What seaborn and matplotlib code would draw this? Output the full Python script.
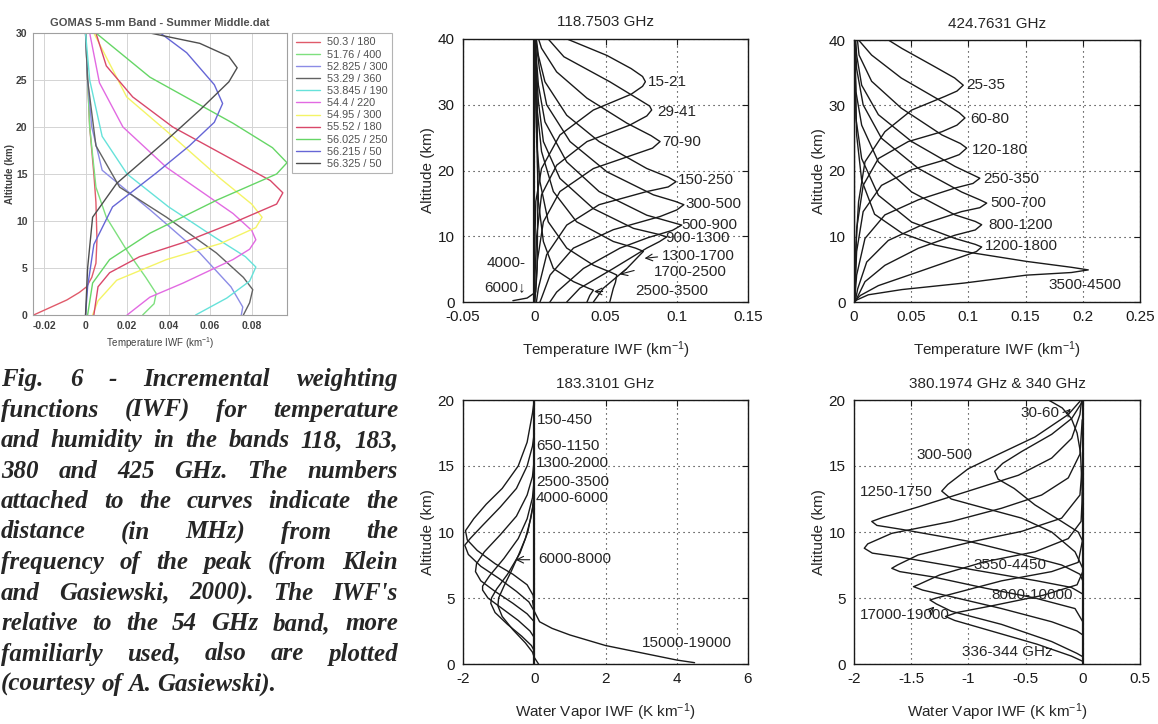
import numpy as np
import pandas as pd
import seaborn as sns
import matplotlib
matplotlib.use("Agg")
import matplotlib.pyplot as plt

# ---------------- data ----------------
# GOMAS 54 GHz band, temperature IWF (km^-1) vs altitude (km)
gomas_labels = ["50.3 / 180", "51.76 / 400", "52.825 / 300", "53.29 / 360", "53.845 / 190",
                "54.4 / 220", "54.95 / 300", "55.52 / 180", "56.025 / 250", "56.215 / 50", "56.325 / 50"]
gomas_colors = ["#e05a6a", "#7ee07e", "#8c8ce6", "#626262", "#66e2da", "#e26ae2",
                "#f4f466", "#d9486a", "#66d666", "#6666d6", "#4e4e4e"]
gomas_curves = {
    "50.3 / 180": [(0.0, 30), (0.001, 25), (0.002, 20), (0.004, 15), (0.005, 12), (0.0055, 8), (0.005, 5.5),
                   (0.003, 4), (0.0005, 3), (-0.003, 2.4), (-0.009, 1.6), (-0.017, 0.8), (-0.025, 0)],
    "51.76 / 400": [(0.0, 30), (0.001, 25), (0.002, 20), (0.005, 13.6), (0.010, 10.4), (0.0198, 6.9),
                    (0.029, 4), (0.034, 2.3), (0.033, 1.2), (0.0275, 0)],
    "52.825 / 300": [(0.0, 30), (0.001, 25), (0.003, 20), (0.008, 15.4), (0.031, 11.2), (0.055, 6.6),
                     (0.07, 3.0), (0.0757, 0.85), (0.075, 0)],
    "53.29 / 360": [(0.0, 30), (0.001, 25), (0.005, 18), (0.0164, 13.6), (0.039, 10.4), (0.063, 6.6),
                    (0.076, 4), (0.0805, 2.7), (0.079, 1.3), (0.076, 0)],
    "53.845 / 190": [(0.0, 30), (0.002, 25), (0.008, 19), (0.02, 15), (0.04, 11.5), (0.062, 8.3),
                     (0.077, 6.2), (0.082, 5.1), (0.079, 3.6), (0.068, 1.8), (0.053, 0)],
    "54.4 / 220": [(0.002, 30), (0.0067, 24.7), (0.018, 20), (0.039, 15.7), (0.071, 10.8), (0.08, 9),
                   (0.082, 8), (0.079, 7), (0.071, 5.9), (0.047, 3.4), (0.031, 1.9), (0.02, 0)],
    "54.95 / 300": [(0.004, 30), (0.0198, 23.2), (0.042, 19), (0.065, 14.5), (0.08, 11.8), (0.085, 10.4),
                    (0.082, 9.3), (0.065, 7.6), (0.039, 5.9), (0.015, 3.7), (0.006, 1.5), (0.0034, 0)],
    "55.52 / 180": [(0.005, 30), (0.01, 26.5), (0.0227, 23.2), (0.042, 20), (0.071, 16.5), (0.089, 14.3),
                    (0.095, 13), (0.092, 11.8), (0.071, 9.8), (0.047, 7.7), (0.026, 6.2), (0.0116, 4.5),
                    (0.006, 3.0), (0.004, 0)],
    "56.025 / 250": [(0.005, 30), (0.031, 25.3), (0.071, 20.4), (0.09, 17.8), (0.097, 16.2), (0.092, 15),
                     (0.063, 12.2), (0.031, 8.7), (0.0116, 5.9), (0.0034, 3.4), (0.001, 0)],
    "56.215 / 50": [(0.036, 30), (0.0487, 27.9), (0.062, 24.5), (0.066, 22.5), (0.062, 20.5), (0.05, 18),
                    (0.034, 15.1), (0.013, 11.5), (0.004, 7.5), (0.001, 3), (0.0, 0)],
    "56.325 / 50": [(0.031, 30), (0.055, 28.9), (0.069, 27.5), (0.073, 26.3), (0.069, 24.8), (0.055, 21.8),
                    (0.039, 18.6), (0.015, 14), (0.0034, 10.4), (0.001, 5), (0.0, 0)],
}

# 118.7503 GHz, temperature IWF (km^-1)
t118_curves = {
    "15-21": [(0.023, 40), (0.051, 37.5), (0.068, 35.5), (0.076, 34.3), (0.078, 33.5), (0.076, 32.8),
              (0.068, 31.6), (0.0415, 29.2), (0.018, 25.4), (0.0051, 20.3), (0.0011, 15.3), (0.0003, 8), (0, 0)],
    "29-41": [(0.0098, 40), (0.0208, 37.3), (0.053, 33.5), (0.072, 31), (0.081, 29.8), (0.0824, 29.2),
              (0.079, 28.3), (0.067, 26.9), (0.037, 24.4), (0.0157, 20.8), (0.0051, 16.3), (0.0017, 10),
              (0.0005, 4), (0, 0)],
    "70-90": [(0.003, 40), (0.0051, 38.6), (0.0157, 35), (0.037, 31), (0.065, 27.2), (0.082, 25.3),
              (0.0883, 24.4), (0.083, 23.4), (0.0696, 22.4), (0.0415, 20.3), (0.018, 16.8), (0.0064, 12.2),
              (0.0022, 6.3), (0.0005, 0)],
    "150-250": [(0.0015, 40), (0.0029, 37.5), (0.0075, 33.5), (0.0228, 28.4), (0.0455, 24.4), (0.079, 20.3),
                (0.094, 19), (0.0995, 18.3), (0.094, 17.5), (0.079, 16.8), (0.0455, 14.8), (0.0228, 11.7),
                (0.0087, 7.2), (0.0029, 2.1), (0.0015, 0)],
    "300-500": [(0.001, 40), (0.0036, 35.5), (0.0087, 30), (0.0251, 24.4), (0.051, 19.8), (0.0836, 16.3),
                (0.099, 15.3), (0.105, 14.8), (0.1, 14), (0.0883, 13), (0.0555, 11), (0.0275, 8.2),
                (0.0111, 4.1), (0.0051, 0.6), (0.004, 0)],
    "500-900": [(0.0005, 40), (0.0029, 33), (0.0075, 27.4), (0.0228, 21.3), (0.0455, 16.8), (0.079, 13.2),
                (0.097, 12.1), (0.1035, 11.7), (0.097, 10.9), (0.08, 9.8), (0.0602, 8.2), (0.0345, 5.1),
                (0.0157, 1.5), (0.011, 0)],
    "900-1300": [(0.0003, 40), (0.0029, 30.5), (0.0064, 24.4), (0.018, 18.8), (0.0415, 14.2), (0.0696, 11.2),
                 (0.087, 10.3), (0.093, 9.9), (0.088, 9.2), (0.079, 8.2), (0.0555, 5.1), (0.032, 2.1),
                 (0.0228, 0)],
    "1300-1700": [(0.0003, 40), (0.0022, 29), (0.0051, 22.9), (0.0134, 16.8), (0.0297, 12.2), (0.0555, 9.2),
                  (0.071, 8.2), (0.0766, 7.7), (0.073, 6.9), (0.065, 5.1), (0.0485, 2.1), (0.0415, 0)],
    "1700-2500": [(0.0002, 40), (0.0017, 24.4), (0.004, 18.3), (0.0098, 12.2), (0.0228, 8.2), (0.0415, 5.6),
                  (0.054, 4.5), (0.0579, 4.1), (0.057, 3.0), (0.0555, 2.1), (0.053, 0)],
    "2500-3500": [(0.0001, 40), (0.0029, 15.3), (0.0064, 9.2), (0.0134, 5.1), (0.0275, 3.1), (0.038, 2.1),
                  (0.0415, 1.8), (0.039, 1.0), (0.037, 0)],
    "4000-6000": [(0.001, 40), (0.002, 30), (0.0025, 15), (0.002, 5), (0.001, 1.5), (-0.005, 0.6),
                  (-0.015, 0.2)],
}

# 424.7631 GHz, temperature IWF (km^-1)
t424_curves = {
    "25-35": [(0.030, 40), (0.042, 38.7), (0.0708, 35.9), (0.088, 34.2), (0.0955, 33.1), (0.09, 32.2),
              (0.0796, 31.4), (0.0504, 29.3), (0.027, 26), (0.0096, 21.4), (0.004, 15.3), (0.0014, 7.7),
              (0.0005, 0)],
    "60-80": [(0.004, 40), (0.0154, 37.7), (0.0413, 34.2), (0.0769, 30.6), (0.092, 28.9), (0.097, 28.1),
              (0.09, 27.0), (0.0769, 26), (0.0475, 24.5), (0.0213, 21.9), (0.008, 17.8), (0.0023, 11.2),
              (0.0005, 0)],
    "120-180": [(0.003, 40), (0.0044, 37.7), (0.0154, 33.7), (0.0413, 29.6), (0.0769, 25.5), (0.093, 24.2),
                (0.0985, 23.5), (0.092, 22.5), (0.0796, 21.7), (0.0504, 20.2), (0.024, 17.8), (0.008, 13.8),
                (0.0023, 7.7), (0.0005, 0)],
    "250-350": [(0.0015, 40), (0.0023, 37.7), (0.0067, 33.1), (0.0213, 28.6), (0.0504, 24.5), (0.0883, 20.7),
                (0.104, 19.4), (0.110, 18.9), (0.104, 18.1), (0.0883, 17.4), (0.0562, 15.6), (0.027, 13.3),
                (0.0096, 9.7), (0.0023, 4.1), (0.0005, 0)],
    "500-700": [(0.001, 40), (0.0023, 35.6), (0.008, 30.1), (0.024, 25), (0.0562, 20.4), (0.094, 16.8),
                (0.11, 15.6), (0.116, 15.1), (0.11, 14.4), (0.094, 13.8), (0.0623, 12), (0.030, 9.4),
                (0.0111, 6.1), (0.0032, 2), (0.001, 0)],
    "800-1200": [(0.0008, 40), (0.0017, 32.1), (0.0067, 27), (0.0213, 21.4), (0.0504, 16.8), (0.0883, 13.3),
                 (0.106, 12.3), (0.1116, 11.8), (0.106, 11.0), (0.0883, 10.2), (0.0562, 8.2), (0.027, 5.6),
                 (0.0096, 3.1), (0.0023, 0.5), (0.001, 0)],
    "1200-1800": [(0.0006, 40), (0.0017, 28), (0.0067, 21.9), (0.0213, 16.3), (0.0504, 12.2), (0.0883, 9.7),
                  (0.106, 8.8), (0.1116, 8.4), (0.107, 7.7), (0.094, 6.9), (0.0562, 4.6), (0.0213, 2.5),
                  (0.0056, 1.0), (0.0009, 0.2), (0, 0)],
    "3500-4500": [(0.0004, 40), (0.0023, 25.5), (0.0067, 18.6), (0.018, 13.4), (0.042, 10.5), (0.0708, 8.7),
                  (0.1, 7.6), (0.1507, 6.2), (0.19, 5.3), (0.2048, 4.9), (0.19, 4.5), (0.1507, 4.1),
                  (0.0966, 2.9), (0.042, 1.9), (0.0125, 1.1), (0.0023, 0.3), (0, 0)],
}

# 183.3101 GHz, water vapor IWF (K km^-1)
w183_curves = {
    "150-450": [(0, 20), (-0.05, 19.0), (-0.2, 16.8), (-0.45, 15.0), (-0.9, 13.3), (-1.35, 12.1), (-1.7, 11.0),
                (-1.93, 10.1), (-1.88, 9.4), (-1.6, 8.6), (-1.1, 7.6), (-0.6, 6.8), (-0.2, 6.0), (-0.03, 5.2),
                (0, 4.5)],
    "650-1150": [(0, 17.5), (-0.05, 16.5), (-0.2, 15.0), (-0.5, 13.3), (-0.95, 11.9), (-1.45, 10.5),
                 (-1.8, 9.5), (-1.95, 9.0), (-1.85, 8.3), (-1.5, 7.4), (-1.0, 6.5), (-0.5, 5.5), (-0.15, 4.7),
                 (0, 4.0)],
    "1300-2000": [(0, 15.5), (-0.05, 14.2), (-0.2, 12.8), (-0.5, 11.2), (-0.95, 9.8), (-1.4, 8.5),
                  (-1.62, 7.6), (-1.65, 7.0), (-1.5, 6.3), (-1.1, 5.5), (-0.6, 4.6), (-0.2, 3.8), (0, 3.2)],
    "2500-3500": [(0, 14.0), (-0.05, 12.6), (-0.2, 11.0), (-0.45, 9.5), (-0.85, 8.0), (-1.25, 6.7),
                  (-1.45, 5.9), (-1.45, 5.6), (-1.3, 5.0), (-0.9, 4.2), (-0.45, 3.3), (-0.12, 2.5), (0, 2.0)],
    "4000-6000": [(0, 13.0), (-0.05, 11.8), (-0.18, 10.0), (-0.4, 8.4), (-0.75, 6.8), (-1.05, 5.7),
                  (-1.2, 5.0), (-1.22, 4.6), (-1.1, 3.9), (-0.75, 3.0), (-0.35, 2.1), (-0.08, 1.4), (0, 1.0)],
    "6000-8000": [(0, 12.5), (-0.1, 11.0), (-0.25, 9.5), (-0.45, 8.2), (-0.65, 7.0), (-0.85, 5.9),
                  (-1.0, 5.0), (-1.02, 4.4), (-0.9, 3.6), (-0.6, 2.6), (-0.25, 1.6), (-0.05, 0.9), (0, 0.5),
                  (0.12, 0)],
    "15000-19000": [(-0.05, 4.8), (0, 4.0), (0.15, 3.2), (0.5, 2.7), (1.0, 2.2), (2.0, 1.4), (3.0, 0.85),
                    (4.0, 0.3), (4.5, 0.1)],
}

# 380.1974 GHz & 340 GHz, water vapor IWF (K km^-1)
w380_curves = {
    "30-60": [(-0.3, 20), (-0.18, 19.4), (-0.1, 18.6), (-0.05, 17.5), (-0.02, 16), (-0.01, 14), (0, 12)],
    "300-500": [(-0.009, 19.8), (-0.097, 18.6), (-0.272, 17.4), (-0.534, 16.1), (-0.7, 15.2), (-0.77, 14.6),
                (-0.74, 14.0), (-0.6, 13.3), (-0.418, 12.05), (-0.185, 10.8), (-0.04, 10.0), (0, 9.3),
                (0, 8.5)],
    "1250-1750": [(-0.025, 19.9), (-0.127, 18.9), (-0.418, 17.2), (-0.71, 16.0), (-1.0, 14.8), (-1.18, 13.6),
                  (-1.233, 13.1), (-1.15, 12.5), (-0.855, 11.8), (-0.534, 11.05), (-0.272, 10.0),
                  (-0.068, 8.5), (0, 7.25), (0, 6.5)],
    "600-1000": [(-0.01, 20), (-0.025, 18.9), (-0.097, 17.1), (-0.272, 15.6), (-0.563, 14.3), (-1.0, 13.1),
                 (-1.438, 11.9), (-1.75, 11.1), (-1.845, 10.8), (-1.8, 10.5), (-1.584, 10.2), (-1.0, 9.3),
                 (-0.534, 8.3), (-0.185, 7.5), (-0.025, 6.8), (0, 6.3)],
    "2000-2600": [(-0.005, 18.5), (-0.025, 15.9), (-0.127, 14.1), (-0.36, 12.8), (-0.71, 11.8), (-1.146, 10.8),
                  (-1.67, 9.9), (-1.88, 9.1), (-1.91, 8.77), (-1.84, 8.4), (-1.6, 8.1), (-1.2, 7.5),
                  (-0.8, 6.9), (-0.4, 6.3), (-0.1, 5.8), (0, 5.3)],
    "3550-4450": [(-0.005, 15), (-0.025, 12.8), (-0.185, 11.05), (-0.534, 10.05), (-0.95, 9.3), (-1.44, 8.26),
                  (-1.62, 7.5), (-1.67, 7.25), (-1.6, 7.0), (-1.31, 6.6), (-0.855, 5.75), (-0.418, 5.0),
                  (-0.068, 4.2), (0, 3.2)],
    "8000-10000": [(-0.003, 13), (-0.015, 10.8), (-0.127, 9.5), (-0.418, 8.5), (-0.855, 7.75), (-1.25, 6.75),
                   (-1.44, 6.0), (-1.48, 5.86), (-1.4, 5.6), (-1.2, 5.2), (-0.71, 4.2), (-0.272, 3.2),
                   (-0.05, 2.5), (0, 2.2)],
    "17000-19000": [(0, 9.5), (-0.04, 7.7), (-0.272, 7.0), (-0.71, 6.3), (-1.06, 5.5), (-1.28, 5.0),
                    (-1.336, 4.85), (-1.28, 4.55), (-1.15, 4.0), (-0.71, 3.0), (-0.272, 1.7), (-0.05, 0.8),
                    (0, 0.55)],
    "336-344 GHz": [(0, 7), (-0.05, 6.0), (-0.35, 5.2), (-0.8, 4.4), (-1.1, 3.9), (-1.2, 3.6), (-1.12, 3.3),
                    (-0.8, 2.5), (-0.4, 1.5), (-0.1, 0.6), (0, 0.2)],
}

caption_lines = [
    "Fig. 6 - Incremental weighting",
    "functions (IWF) for temperature",
    "and humidity in the bands 118, 183,",
    "380 and 425 GHz.  The numbers",
    "attached to the curves indicate the",
    "distance (in MHz) from the",
    "frequency of the peak (from Klein",
    "and Gasiewski, 2000).  The IWF's",
    "relative to the 54 GHz band, more",
    "familiarly used, also are plotted",
    "(courtesy of A. Gasiewski).",
]


def to_frame(curves):
    rows = []
    for name, pts in curves.items():
        for i, (x, a) in enumerate(pts):
            rows.append({"curve": name, "i": i, "x": x, "alt": a})
    return pd.DataFrame(rows)


sns.set_theme(style="white")
plt.rcParams["font.family"] = ["Liberation Sans", "DejaVu Sans"]
plt.rcParams["mathtext.fontset"] = "custom"
plt.rcParams["mathtext.rm"] = "Liberation Sans"
plt.rcParams["mathtext.default"] = "regular"
plt.rcParams["axes.unicode_minus"] = False

W, H = 1158, 724
fig = plt.figure(figsize=(W / 100, H / 100), dpi=100)


def px_axes(l, t, r, b):
    return fig.add_axes([l / W, 1 - b / H, (r - l) / W, (b - t) / H])


# ---------- small GOMAS chart ----------
ax0 = px_axes(33, 33, 287, 315)
df0 = to_frame(gomas_curves)
sns.lineplot(data=df0, x="x", y="alt", hue="curve", hue_order=gomas_labels,
             palette=dict(zip(gomas_labels, gomas_colors)), units="curve", estimator=None,
             sort=False, lw=1.0, ax=ax0)
ax0.set_xlim(-0.0253, 0.097)
ax0.set_ylim(0, 30)
ax0.set_xticks([-0.02, 0, 0.02, 0.04, 0.06, 0.08])
ax0.set_xticklabels(["-0.02", "0", "0.02", "0.04", "0.06", "0.08"])
ax0.set_yticks([0, 5, 10, 15, 20, 25, 30])
ax0.grid(True, color="#d4d4d4", lw=0.7)
for s in ax0.spines.values():
    s.set_color("#a0a0a0")
    s.set_linewidth(0.8)
ax0.tick_params(length=0, labelsize=7.5, colors="#404040", pad=4)
for t in ax0.get_xticklabels() + ax0.get_yticklabels():
    t.set_fontweight("bold")
ax0.set_title("GOMAS 5-mm Band - Summer Middle.dat", fontsize=8, fontweight="bold",
              color="#505050", pad=5)
ax0.set_xlabel(r"Temperature IWF (km$^{-1}$)", fontsize=7, color="#404040", labelpad=3)
ax0.set_ylabel("Altitude (km)", fontsize=7, fontweight="bold", color="#404040", labelpad=1)
leg = ax0.legend(loc="upper left", bbox_to_anchor=(1.02, 1.0), borderaxespad=0, fontsize=7.8,
                 frameon=True, fancybox=False, edgecolor="#a0a0a0", handlelength=2.2,
                 labelspacing=0.2, borderpad=0.4, handletextpad=0.6)
leg.get_frame().set_linewidth(0.8)
for t in leg.get_texts():
    t.set_color("#505050")


# ---------- four black panels ----------
def style_panel(ax, xlim, ylim, xt, xtl, yt, title, xlabel):
    ax.set_xlim(*xlim)
    ax.set_ylim(*ylim)
    ax.set_xticks(xt)
    ax.set_xticklabels(xtl)
    ax.set_yticks(yt)
    ax.set_yticklabels([str(v) for v in yt])
    ax.grid(True, color="k", lw=0.8, linestyle=(0, (1, 3.5)))
    for s in ax.spines.values():
        s.set_color("k")
        s.set_linewidth(1.0)
    ax.tick_params(direction="in", length=4, width=0.8, labelsize=11, colors="k",
                   top=True, right=True, pad=6)
    ax.set_title(title, fontsize=11, pad=9)
    ax.set_xlabel(xlabel, fontsize=11, labelpad=11)
    ax.set_ylabel("Altitude (km)", fontsize=11, labelpad=2)


def draw_curves(ax, curves):
    df = to_frame(curves)
    sns.lineplot(data=df, x="x", y="alt", units="curve", estimator=None, sort=False,
                 color="k", lw=1.0, ax=ax, legend=False)
    ax.axvline(0, color="k", lw=1.6)


axA = px_axes(463, 39, 748, 302)
draw_curves(axA, t118_curves)
style_panel(axA, (-0.05, 0.15), (0, 40), [-0.05, 0, 0.05, 0.1, 0.15],
            ["-0.05", "0", "0.05", "0.1", "0.15"], [0, 10, 20, 30, 40],
            "118.7503 GHz", r"Temperature IWF (km$^{-1}$)")
a_text = {"15-21": (0.0799, 33.5), "29-41": (0.086, 28.9), "70-90": (0.0895, 24.3),
          "150-250": (0.101, 18.6), "300-500": (0.106, 14.9), "500-900": (0.1035, 11.7),
          "900-1300": (0.092, 9.7), "1300-1700": (0.0895, 7.0), "1700-2500": (0.0836, 4.5),
          "2500-3500": (0.0708, 1.7)}
for lab, (x, y) in a_text.items():
    axA.text(x, y, lab, fontsize=11, ha="left", va="center")
axA.text(-0.0058, 6.0, "4000-", fontsize=11, ha="right", va="center")
axA.text(-0.0058, 2.2, "6000\u2193", fontsize=11, ha="right", va="center")
for tail, tip in [((0.0885, 6.9), (0.0755, 6.6)), ((0.072, 4.9), (0.058, 4.1)), ((0.05, 1.6), (0.04, 1.6))]:
    axA.annotate("", xy=tip, xytext=tail, arrowprops=dict(arrowstyle="->", lw=0.8, color="k"))

axB = px_axes(854, 40, 1140, 302)
draw_curves(axB, t424_curves)
style_panel(axB, (0, 0.25), (0, 40), [0, 0.05, 0.1, 0.15, 0.2, 0.25],
            ["0", "0.05", "0.1", "0.15", "0.2", "0.25"], [0, 10, 20, 30, 40],
            "424.7631 GHz", r"Temperature IWF (km$^{-1}$)")
b_text = {"25-35": (0.0985, 33.1), "60-80": (0.1014, 28.0), "120-180": (0.1029, 23.2),
          "250-350": (0.113, 18.8), "500-700": (0.1189, 15.1), "800-1200": (0.1174, 11.8),
          "1200-1800": (0.1145, 8.6), "3500-4500": (0.1698, 2.6)}
for lab, (x, y) in b_text.items():
    axB.text(x, y, lab, fontsize=11, ha="left", va="center")

axC = px_axes(463, 400, 748, 664)
draw_curves(axC, w183_curves)
style_panel(axC, (-2, 6), (0, 20), [-2, 0, 2, 4, 6], ["-2", "0", "2", "4", "6"],
            [0, 5, 10, 15, 20], "183.3101 GHz", r"Water Vapor IWF (K km$^{-1}$)")
c_text = {"150-450": (0.07, 18.5), "650-1150": (0.05, 16.5), "1300-2000": (0.05, 15.2),
          "2500-3500": (0.05, 13.8), "4000-6000": (0.05, 12.6), "6000-8000": (0.11, 7.95),
          "15000-19000": (3.02, 1.57)}
for lab, (x, y) in c_text.items():
    axC.text(x, y, lab, fontsize=11, ha="left", va="center")
axC.annotate("", xy=(-0.6, 7.9), xytext=(-0.05, 7.9), arrowprops=dict(arrowstyle="->", lw=0.8, color="k"))

axD = px_axes(854, 400, 1140, 664)
draw_curves(axD, w380_curves)
style_panel(axD, (-2, 0.5), (0, 20), [-2, -1.5, -1, -0.5, 0, 0.5],
            ["-2", "-1.5", "-1", "-0.5", "0", "0.5"], [0, 5, 10, 15, 20],
            "380.1974 GHz & 340 GHz", r"Water Vapor IWF (K km$^{-1}$)")
d_text = {"30-60": (-0.549, 19.0), "300-500": (-1.452, 15.84), "1250-1750": (-1.948, 13.06),
          "3550-4450": (-0.957, 7.5), "8000-10000": (-0.797, 5.23), "17000-19000": (-1.948, 3.71),
          "336-344 GHz": (-1.06, 0.93)}
for lab, (x, y) in d_text.items():
    axD.text(x, y, lab, fontsize=11, ha="left", va="center")
axD.annotate("", xy=(-0.09, 19.5), xytext=(-0.16, 18.8), arrowprops=dict(arrowstyle="->", lw=0.8, color="k"))
axD.annotate("", xy=(-1.28, 4.5), xytext=(-1.36, 3.8), arrowprops=dict(arrowstyle="->", lw=0.8, color="k"))

# ---------- justified caption ----------
renderer = fig.canvas.get_renderer()
cap_left, cap_right = 1, 398
for k, line in enumerate(caption_lines):
    yb = 1 - (386 + k * 30.5) / H
    words = line.split()
    objs = [fig.text(0, yb, w, fontsize=18, family="Liberation Serif", fontweight="bold",
                     style="italic", va="baseline", ha="left") for w in words]
    widths = [o.get_window_extent(renderer).width for o in objs]
    if k < len(caption_lines) - 1:
        gap = max((cap_right - cap_left - sum(widths)) / (len(words) - 1), 3)
    else:
        gap = 6
    x = cap_left
    for o, w in zip(objs, widths):
        o.set_x(x / W)
        x += w + gap

fig.savefig("out.png", dpi=100)
